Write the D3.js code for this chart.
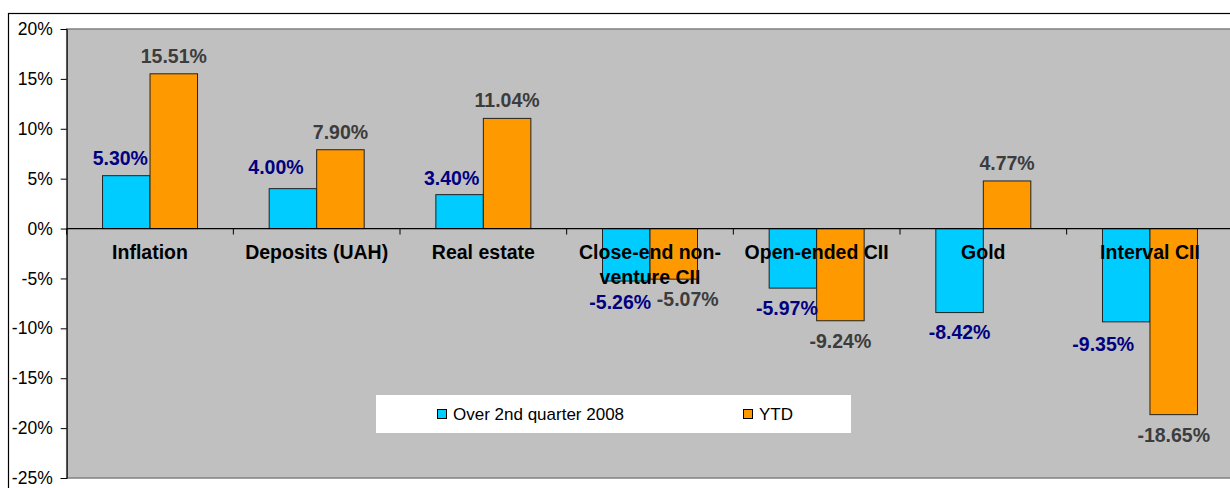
<!DOCTYPE html>
<html>
<head>
<meta charset="utf-8">
<script src="https://cdn.jsdelivr.net/npm/d3@7"></script>
<style>
  body { margin: 0; background: #fff; }
  text { font-family: Arial, "Liberation Sans", sans-serif; }
</style>
</head>
<body>
<div id="chart"></div>
<script>
// data
var categories = ["Inflation", "Deposits (UAH)", "Real estate", "Close-end non-venture CII", "Open-ended CII", "Gold", "Interval CII"];
var seriesNames = ["Over 2nd quarter 2008", "YTD"];
var quarterValues = [5.30, 4.00, 3.40, -5.26, -5.97, -8.42, -9.35];
var ytdValues = [15.51, 7.90, 11.04, -5.07, -9.24, 4.77, -18.65];
var yTicks = [20, 15, 10, 5, 0, -5, -10, -15, -20, -25];

// hand-placed label nudges (as in the original workbook)
var quarterNudgeX = [-6, -17, -8, -6, -6, 0, -23];
var quarterNudgeY = [0, -4, 1, 1, 0, -1, 2];
var ytdNudgeX = [0, 0, 0, 14, 0, 0, 0];

var wd = 1230, ht = 488;
var plot = { left: 66.7, right: 1233.3, top: 29, bottom: 478 };
var colors = { "Over 2nd quarter 2008": "#00CCFF", "YTD": "#FF9900" };
var labelColors = { "Over 2nd quarter 2008": "#000080", "YTD": "#3c3c3c" };

var svg = d3.select("#chart").append("svg").attr("width", wd).attr("height", ht);

// chart area border
svg.append("rect").attr("x", 8.5).attr("y", 13.5).attr("width", 1300).attr("height", 600)
   .attr("fill", "#fff").attr("stroke", "#000").attr("stroke-width", 1.2);

var xScale = d3.scaleBand().domain(categories).range([plot.left, plot.right]);
var groupW = xScale.bandwidth() * 0.57;
var xSub = d3.scaleBand().domain(seriesNames).range([0, groupW]);
var yScale = d3.scaleLinear().domain([-25, 20]).range([plot.bottom, plot.top]);

// plot area
svg.append("rect").attr("x", plot.left).attr("y", plot.top)
   .attr("width", plot.right - plot.left).attr("height", plot.bottom - plot.top)
   .attr("fill", "#C0C0C0").attr("stroke", "#808080").attr("stroke-width", 1.5);

var data = categories.map(function(c, i) {
  return { cat: c, i: i, values: [
    { s: seriesNames[0], v: quarterValues[i] },
    { s: seriesNames[1], v: ytdValues[i] }
  ]};
});

// y axis
var yAxis = d3.axisLeft(yScale).tickValues(yTicks).tickSize(6).tickPadding(8)
              .tickFormat(function(d) { return d + "%"; });
var gy = svg.append("g").attr("transform", "translate(" + plot.left + ",0)").call(yAxis);
gy.select(".domain").attr("stroke", "#000");
gy.selectAll(".tick line").attr("stroke", "#000");
gy.selectAll(".tick text").style("font-size", "17.5px").attr("fill", "#000");

// bars
var groups = svg.selectAll("g.cat").data(data).enter().append("g")
  .attr("class", "cat")
  .attr("transform", function(d) { return "translate(" + (xScale(d.cat) + (xScale.bandwidth() - groupW) / 2) + ",0)"; });

groups.selectAll("rect").data(function(d) { return d.values; }).enter().append("rect")
  .attr("x", function(d) { return xSub(d.s); })
  .attr("y", function(d) { return yScale(Math.max(0, d.v)); })
  .attr("width", xSub.bandwidth())
  .attr("height", function(d) { return Math.abs(yScale(d.v) - yScale(0)); })
  .attr("fill", function(d) { return colors[d.s]; })
  .attr("stroke", "#222").attr("stroke-width", 1);

// zero line + category ticks
var zero = yScale(0);
svg.append("line").attr("x1", plot.left).attr("x2", plot.right).attr("y1", zero).attr("y2", zero)
   .attr("stroke", "#000").attr("stroke-width", 1.2);
svg.selectAll("line.ctick").data(categories.concat(["end"])).enter().append("line")
  .attr("class", "ctick")
  .attr("x1", function(d, i) { return plot.left + i * xScale.bandwidth(); })
  .attr("x2", function(d, i) { return plot.left + i * xScale.bandwidth(); })
  .attr("y1", zero).attr("y2", zero + 6).attr("stroke", "#000");

// value labels
groups.selectAll("text.val").data(function(d) { return d.values.map(function(v) { return { s: v.s, v: v.v, i: d.i }; }); })
  .enter().append("text")
  .attr("class", "val")
  .attr("text-anchor", "middle")
  .style("font-size", "19.5px").style("font-weight", "bold")
  .attr("fill", function(d) { return labelColors[d.s]; })
  .attr("x", function(d) {
    var nx = d.s === seriesNames[0] ? quarterNudgeX[d.i] : ytdNudgeX[d.i];
    return xSub(d.s) + xSub.bandwidth() / 2 + nx;
  })
  .attr("y", function(d) {
    var base = d.v >= 0 ? yScale(d.v) - 11 : yScale(d.v) + 27;
    return base + (d.s === seriesNames[0] ? quarterNudgeY[d.i] : 0);
  })
  .text(function(d) { return d.v.toFixed(2) + "%"; });

// category labels (on top of bars)
var catText = svg.selectAll("text.cat").data(categories).enter().append("text")
  .attr("class", "cat")
  .attr("text-anchor", "middle")
  .style("font-size", "19.5px").style("font-weight", "bold")
  .attr("fill", "#000")
  .attr("x", function(d) { return xScale(d) + xScale.bandwidth() / 2; })
  .attr("y", zero + 30.5);

catText.each(function(d) {
  var el = d3.select(this);
  var x = el.attr("x");
  var parts = d.match(/[^\s-]+-?\s*/g);
  var lines = [], cur = "";
  parts.forEach(function(p) {
    var trial = cur + p;
    el.text(trial.trim());
    if (cur !== "" && this.getComputedTextLength() > 155) {
      lines.push(cur.trim());
      cur = p;
    } else {
      cur = trial;
    }
  }, this);
  lines.push(cur.trim());
  el.text(null);
  lines.forEach(function(l, k) {
    el.append("tspan").attr("x", x).attr("dy", k === 0 ? 0 : 24.5).text(l);
  });
});

// legend
var legend = svg.append("g");
legend.append("rect").attr("x", 376).attr("y", 395).attr("width", 475).attr("height", 38).attr("fill", "#fff");
var legendX = [437, 743];
seriesNames.forEach(function(s, i) {
  legend.append("rect").attr("x", legendX[i] + 0.5).attr("y", 409.5).attr("width", 9).attr("height", 9)
        .attr("fill", colors[s]).attr("stroke", "#000");
  legend.append("text").attr("x", legendX[i] + 16).attr("y", 419.5)
        .style("font-size", "17px").attr("fill", "#000").text(s);
});
</script>
</body>
</html>
